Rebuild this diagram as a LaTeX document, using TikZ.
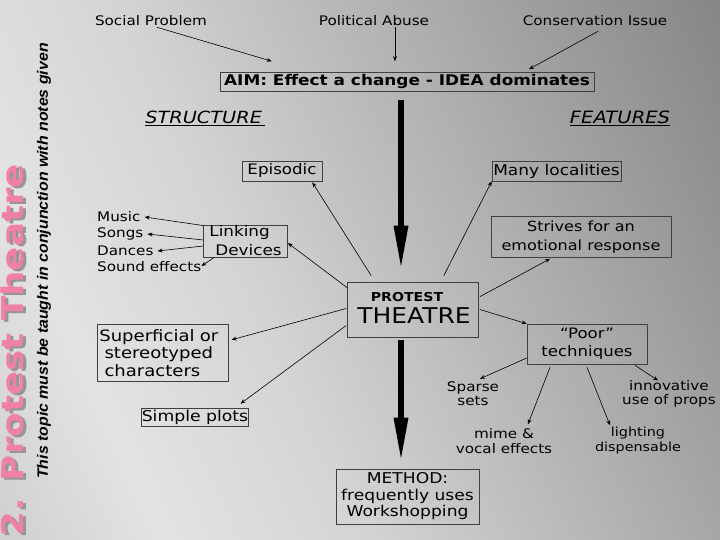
\documentclass[tikz,border=0pt]{standalone}
\usepackage{fontspec}
\setmainfont{DejaVu Sans}[FakeStretch=1.15]
\newfontfamily\titlefont{DejaVu Sans}[FakeStretch=1.19]
\newfontfamily\notefont{Liberation Sans}[FakeStretch=1.06]
\usetikzlibrary{arrows.meta}
\definecolor{titlepink}{RGB}{240,128,168}
\definecolor{titleshadow}{RGB}{150,150,150}
\pgfdeclarehorizontalshading{bgshade}{100bp}{color(0bp)=(black!30); color(28bp)=(black!11); color(42bp)=(black!17); color(100bp)=(black!60)}

\begin{document}
\begin{tikzpicture}[x=1pt, y=-1pt,
    lbl/.style={font=\fontsize{13.2}{15}\selectfont, inner sep=1pt, align=center},
    box/.style={draw=black!75, line width=0.6pt, inner sep=1pt, align=center},
    arr/.style={-{Stealth[length=5pt,width=4pt]}, line width=0.6pt},
    bigarr/.style={line width=6pt, -{Triangle[length=45pt,width=13pt]}},
    head/.style={font=\itshape\fontsize{16.8}{18}\selectfont, inner sep=1pt}]
    % Hintergrund
    \shade[shading=bgshade, shading angle=25] (0,0) rectangle (720,540);
    \useasboundingbox (0,0) rectangle (720,540);
    % Titel am linken Rand
    \node[rotate=90, font=\titlefont\bfseries\fontsize{30}{30}\selectfont, text=titleshadow] at (15,352) {2. Protest Theatre};
    \node[rotate=90, font=\titlefont\bfseries\fontsize{30}{30}\selectfont, text=titlepink] (title) at (12,350) {2. Protest Theatre};
    \node[rotate=90, font=\notefont\bfseries\itshape\fontsize{15}{15}\selectfont] (note) at (44,261) {This topic must be taught in conjunction with notes given};
    % Ursachen und Ziel
    \node[lbl] (soc) at (151,21) {Social Problem};
    \node[lbl] (pol) at (374,21) {Political Abuse};
    \node[lbl] (con) at (595,21) {Conservation Issue};
    \node[box, font=\bfseries\fontsize{14.7}{16}\selectfont, minimum width=374pt, minimum height=19pt, inner sep=0.5pt] (aim) at (407,82) {AIM: Effect a change - IDEA dominates};
    \draw[arr] ([xshift=6pt]soc.south) -- ([xshift=52pt,yshift=11pt]aim.north west);
    \draw[arr] ([xshift=21pt]pol.south) -- ([xshift=-12pt,yshift=11pt]aim.north);
    \draw[arr] ([xshift=3pt,yshift=-4pt]con.south) -- ([xshift=122pt,yshift=3pt]aim.north);
    % Zentrum
    \node[box, minimum width=131pt, minimum height=55pt] (pt) at (413,309.5) {};
    \node[font=\bfseries\fontsize{12.3}{14}\selectfont, inner sep=0pt] (ptA) at (407,297) {PROTEST};
    \node[font=\fontsize{21.7}{24}\selectfont, inner sep=0pt] (ptB) at (414,316) {THEATRE};
    \draw[bigarr] ([xshift=-12pt,yshift=-8pt]pt.north |- aim.south) -- ([xshift=-12pt,yshift=11pt]pt.north);
    % Struktur
    \node[head] (struct) at (205,118) {\underline{STRUCTURE\,}};
    \node[box, font=\fontsize{14.5}{17}\selectfont, minimum width=80pt, minimum height=20pt] (epi) at (282,171) {Episodic};
    \node[box, font=\fontsize{14.6}{19}\selectfont, minimum width=84pt, minimum height=31pt, align=left] (lnk) at (245.5,241) {Linking\\\hspace*{6pt}Devices};
    \node[lbl, anchor=west] (mus) at (96,217) {Music};
    \node[lbl, anchor=west] (son) at (96,234) {Songs};
    \node[lbl, anchor=west] (dan) at (96,251) {Dances};
    \node[lbl, anchor=west] (sfx) at (96,267) {Sound effects};
    \draw[arr] ([yshift=-1pt]lnk.north west) -- ([xshift=3pt]mus.east);
    \draw[arr] ([yshift=1pt]lnk.west) -- ([xshift=3pt]son.east);
    \draw[arr] ([yshift=-5pt]lnk.west) -- ([xshift=3pt]dan.east);
    \draw[arr] ([xshift=11pt]lnk.south west) -- ([xshift=-1pt,yshift=1pt]sfx.east);
    \node[box, font=\fontsize{15.7}{17.5}\selectfont, minimum width=131pt, minimum height=57pt, text width=127pt, align=left, anchor=north west] (sup) at (97,324) {Superficial or\\\ stereotyped\\\ characters};
    \node[box, font=\fontsize{15}{17}\selectfont, minimum width=106pt, minimum height=18pt, inner sep=0pt] (spl) at (195,417) {Simple plots};
    \draw[arr] ([yshift=6pt]pt.north west) ++(24pt,0) -- ([xshift=-10pt,yshift=-1pt]epi.south east);
    \draw[arr] ([yshift=-6pt]pt.north west) -- ([yshift=-2pt]lnk.east);
    \draw[arr] ([xshift=-1pt,yshift=1pt]pt.west) -- ([xshift=3pt,yshift=13pt]sup.east);
    \draw[arr] ([xshift=-1pt,yshift=-16pt]pt.west) -- ([xshift=-8pt,yshift=4pt]spl.north east);
    % Merkmale
    \node[head, font=\itshape\fontsize{17}{18}\selectfont] (feat) at (620,118) {\underline{FEATURES}};
    \node[box, font=\fontsize{14.8}{17}\selectfont, minimum width=129pt, minimum height=20pt] (mny) at (556.5,171) {Many localities};
    \node[box, font=\fontsize{14}{19}\selectfont, minimum width=180pt, minimum height=41pt] (strv) at (581,237) {Strives for an\\emotional response};
    \node[box, font=\fontsize{14.4}{18}\selectfont, minimum width=120pt, minimum height=40pt] (poor) at (587,344) {“Poor”\\techniques};
    \draw[arr] ([xshift=-35pt,yshift=6pt]pt.north east) -- (mny.south west);
    \draw[arr] ([xshift=1pt,yshift=-15pt]pt.north east) -- ([xshift=-31pt,yshift=-1pt]strv.south);
    \draw[arr] ([xshift=1pt]pt.east) -- (poor.north west);
    \node[lbl, font=\fontsize{13.2}{14}\selectfont] (spa) at (473,394) {Sparse\\sets};
    \node[lbl] (mim) at (504,441) {mime \&\\vocal effects};
    \node[lbl, font=\fontsize{12.5}{15}\selectfont] (lit) at (638,441) {lighting\\dispensable};
    \node[lbl, font=\fontsize{13.2}{14}\selectfont] (inn) at (669,394) {innovative\\use of props};
    \draw[arr] ([yshift=-14pt]poor.west) -- ([xshift=7pt,yshift=2pt]spa.north);
    \draw[arr] ([xshift=-37pt,yshift=-3pt]poor.south) -- ([xshift=24pt,yshift=3pt]mim.north);
    \draw[arr] ([yshift=-3pt]poor.south) -- ([xshift=-28pt,yshift=1pt]lit.north);
    \draw[arr] ([xshift=48pt,yshift=-1pt]poor.south) -- ([xshift=-11pt,yshift=-1pt]inn.north);
    % Methode
    \node[box, font=\fontsize{14.9}{16.5}\selectfont, minimum width=143pt, minimum height=55pt] (meth) at (407.5,496.5) {METHOD:\\frequently uses\\Workshopping};
    \draw[bigarr, shorten >=6pt] ([xshift=-12pt,yshift=-3pt]pt.south) -- ([xshift=-12pt]pt.south |- meth.north);
\end{tikzpicture}
\end{document}
